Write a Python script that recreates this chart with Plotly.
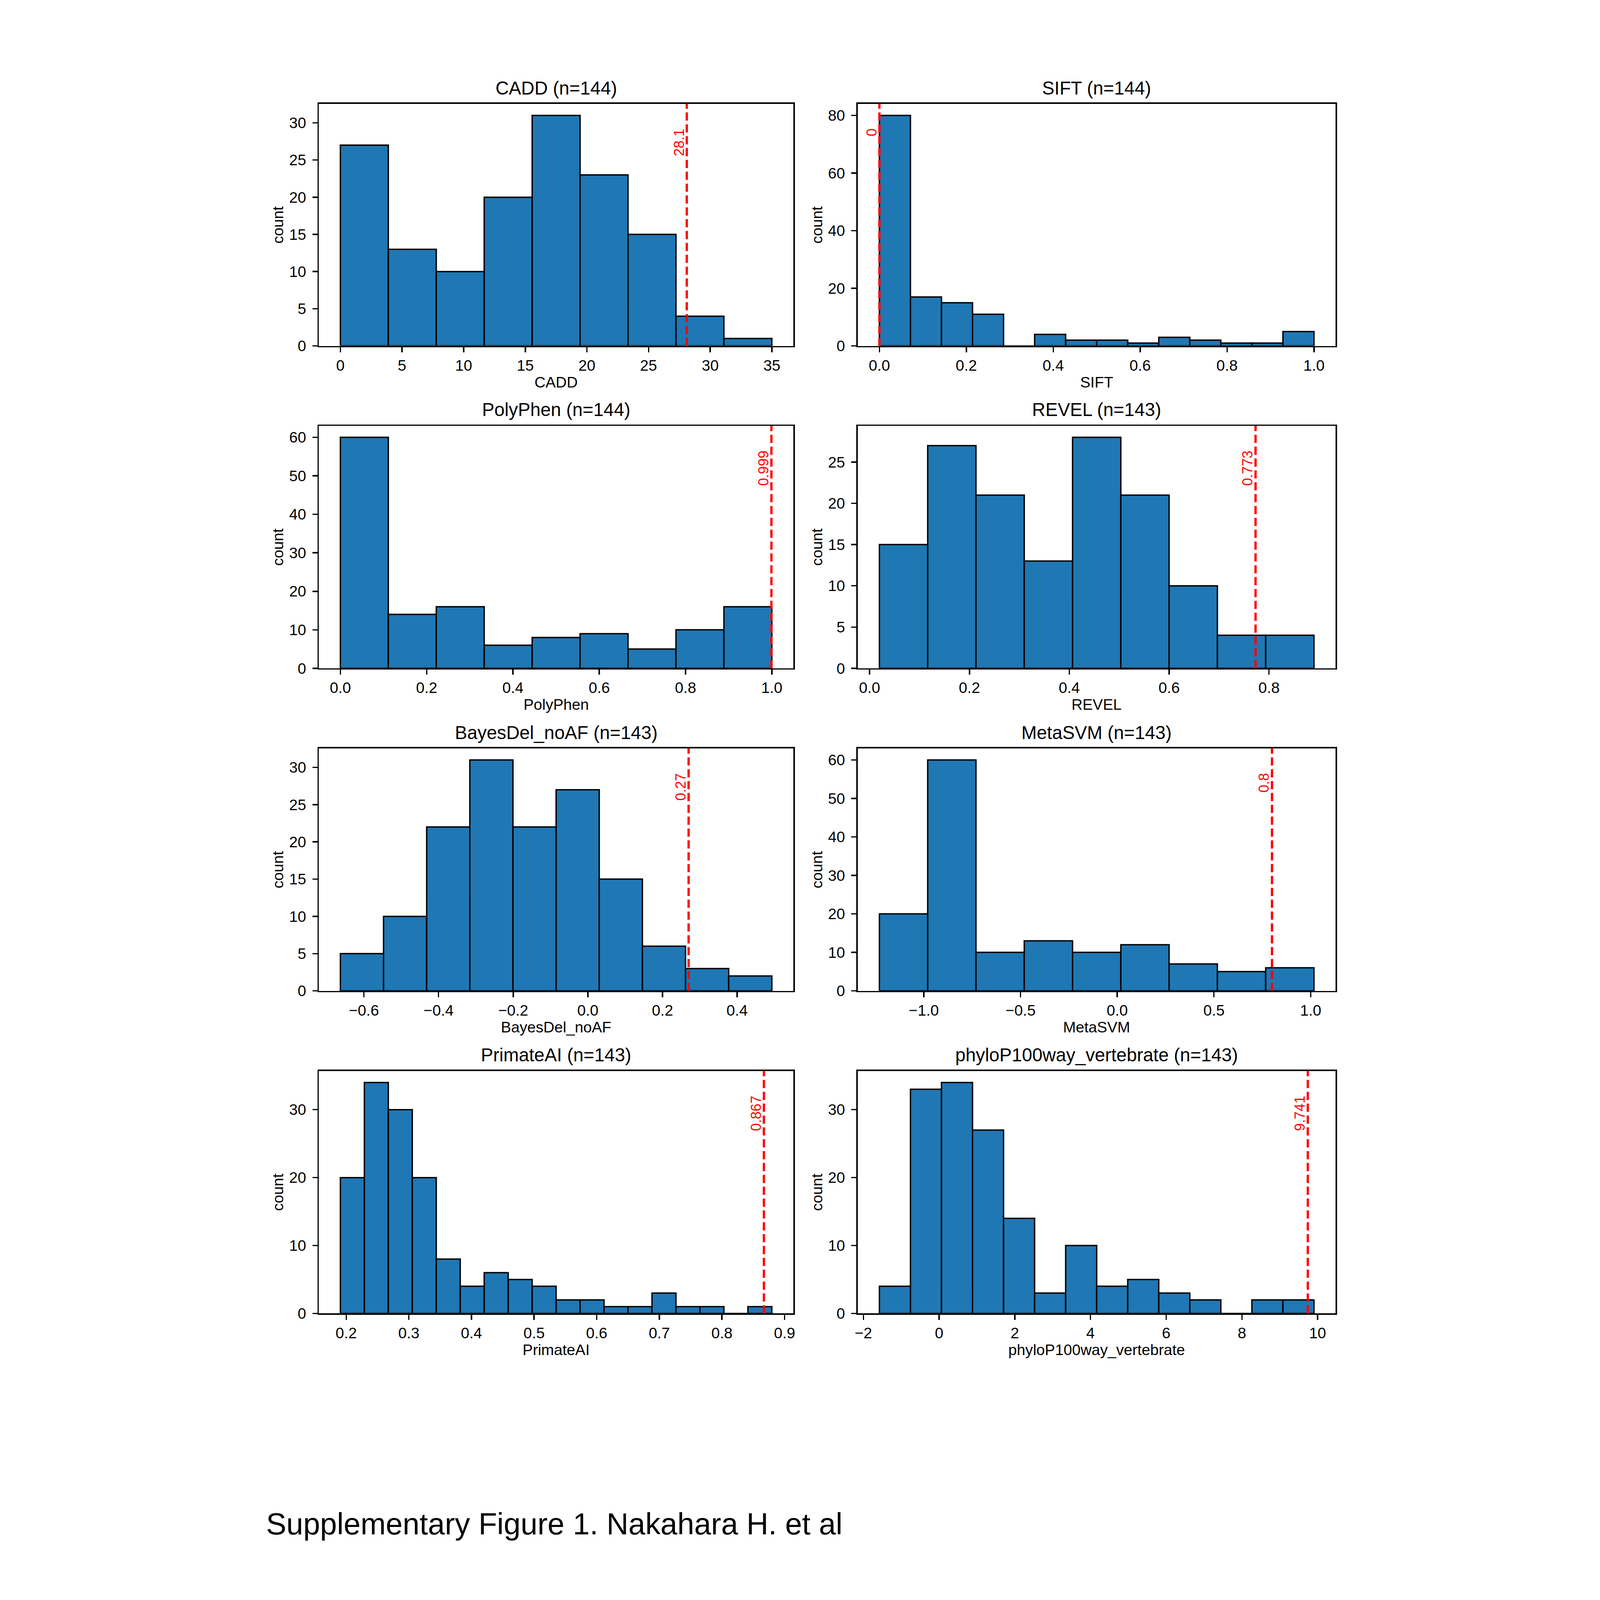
import numpy as np
import plotly.graph_objects as go

# ---------------- data ----------------
names = ["CADD", "SIFT", "PolyPhen", "REVEL", "BayesDel_noAF", "MetaSVM",
         "PrimateAI", "phyloP100way_vertebrate"]
n_values = [144, 144, 144, 143, 143, 143, 143, 143]

cadd_counts = [27, 13, 10, 20, 31, 23, 15, 4, 1]
cadd_range = [0.0, 35.0]
sift_counts = [80, 17, 15, 11, 0, 4, 2, 2, 1, 3, 2, 1, 1, 5]
sift_range = [0.0, 1.0]
polyphen_counts = [60, 14, 16, 6, 8, 9, 5, 10, 16]
polyphen_range = [0.0, 1.0]
revel_counts = [15, 27, 21, 13, 28, 21, 10, 4, 4]
revel_range = [0.0197, 0.890]
bayesdel_counts = [5, 10, 22, 31, 22, 27, 15, 6, 3, 2]
bayesdel_range = [-0.663, 0.493]
metasvm_counts = [20, 60, 10, 13, 10, 12, 7, 5, 6]
metasvm_range = [-1.2295, 1.017]
primateai_counts = [20, 34, 30, 20, 8, 4, 6, 5, 4, 2, 2, 1, 1, 3, 1, 1, 0, 1]
primateai_range = [0.1907, 0.8797]
phylop_counts = [4, 33, 34, 27, 14, 3, 10, 4, 5, 3, 2, 0, 2, 2]
phylop_range = [-1.577, 9.904]

all_counts = [cadd_counts, sift_counts, polyphen_counts, revel_counts,
              bayesdel_counts, metasvm_counts, primateai_counts, phylop_counts]
all_ranges = [cadd_range, sift_range, polyphen_range, revel_range,
              bayesdel_range, metasvm_range, primateai_range, phylop_range]

thresholds = [28.1, 0.0, 0.999, 0.773, 0.27, 0.8, 0.867, 9.741]
threshold_labels = ["28.1", "0", "0.999", "0.773", "0.27", "0.8", "0.867", "9.741"]

x_dticks = [5, 0.2, 0.2, 0.2, 0.2, 0.5, 0.1, 2]
x_formats = ["d", ".1f", ".1f", ".1f", ".1f", ".1f", ".1f", "d"]
y_dticks = [5, 20, 10, 5, 5, 10, 10, 10]

footer = "Supplementary Figure 1. Nakahara H. et al"

# ---------------- layout geometry (pixels of the 4961x7016 page) ----------------
W, H = 4961, 7016
col_px = [(359, 2449), (2732, 4837)]
row_px = [(458, 1525), (1877, 2946), (3299, 4368), (4721, 5790)]

FONT = "Liberation Sans, Arial, Helvetica, sans-serif"
BAR_COLOR = "#1f77b4"

fig = go.Figure()
layout = dict(
    width=W, height=H,
    margin=dict(l=0, r=0, t=0, b=0),
    paper_bgcolor="white", plot_bgcolor="white",
    showlegend=False,
    font=dict(family=FONT, size=67, color="black"),
)
annotations = []
shapes = []

for i, (name, counts, rng) in enumerate(zip(names, all_counts, all_ranges)):
    r, c = divmod(i, 2)
    idx = "" if i == 0 else str(i + 1)
    xa, ya = "x" + idx, "y" + idx
    nb = len(counts)
    edges = np.linspace(rng[0], rng[1], nb + 1)
    width = edges[1] - edges[0]
    fig.add_trace(go.Bar(
        x=edges[:-1], y=counts, width=[width] * nb, offset=0,
        marker=dict(color=BAR_COLOR, line=dict(color="black", width=6)),
        xaxis=xa, yaxis=ya, hoverinfo="skip",
    ))
    span = rng[1] - rng[0]
    xr = [min(rng[0], thresholds[i]) - 0.05 * span, max(rng[1], thresholds[i]) + 0.05 * span]
    yr = [0, max(counts) * 1.05]
    x0p, x1p = col_px[c]
    y0p, y1p = row_px[r]
    axis_common = dict(
        showline=True, linecolor="black", linewidth=6, mirror=True,
        ticks="outside", ticklen=22, tickwidth=6, tickcolor="black",
        showgrid=False, zeroline=False, tick0=0,
        tickfont=dict(family=FONT, size=67, color="black"),
        fixedrange=True,
    )
    layout["xaxis" + idx] = dict(
        axis_common, domain=[x0p / W, x1p / W], anchor=ya, range=xr,
        dtick=x_dticks[i], tickformat=x_formats[i], ticklabelstandoff=0,
    )
    layout["yaxis" + idx] = dict(
        axis_common, domain=[1 - y1p / H, 1 - y0p / H], anchor=xa, range=yr,
        dtick=y_dticks[i], tickformat="d", ticklabelstandoff=14,
    )
    xc = (x0p + x1p) / 2 / W
    annotations.append(dict(
        text=f"{name} (n={n_values[i]})", x=xc, y=1 - (y0p - 70) / H,
        xref="paper", yref="paper", xanchor="center", yanchor="middle",
        showarrow=False, font=dict(family=FONT, size=81, color="black")))
    annotations.append(dict(
        text=name, x=xc, y=1 - (y1p + 160) / H,
        xref="paper", yref="paper", xanchor="center", yanchor="middle",
        showarrow=False, font=dict(family=FONT, size=67, color="black")))
    annotations.append(dict(
        text="count", x=(x0p - 180) / W, y=1 - (y0p + y1p) / 2 / H,
        xref="paper", yref="paper", xanchor="center", yanchor="middle",
        textangle=-90, showarrow=False,
        font=dict(family=FONT, size=67, color="black")))
    shapes.append(dict(
        type="line", xref=xa, yref=ya + " domain", x0=thresholds[i], x1=thresholds[i],
        y0=0, y1=1, line=dict(color="red", width=10, dash="36px,16px"), layer="above"))
    annotations.append(dict(
        text=threshold_labels[i], x=thresholds[i], y=0.9,
        xref=xa, yref=ya + " domain", xanchor="right", yanchor="top",
        textangle=-90, showarrow=False, xshift=2,
        font=dict(family=FONT, size=62, color="red")))

annotations.append(dict(
    text=footer, x=125 / W, y=1 - 6717 / H, xref="paper", yref="paper",
    xanchor="left", yanchor="middle", showarrow=False,
    font=dict(family=FONT, size=133, color="black")))

layout["annotations"] = annotations
layout["shapes"] = shapes
fig.update_layout(**layout)

# Fit the full page into whatever viewport the browser really has (uniform scale).
fit_js = """
(function(){
  var gd = document.getElementById('{plot_id}');
  document.documentElement.style.overflow = 'hidden';
  document.body.style.margin = '0';
  document.body.style.overflow = 'hidden';
  var W = %d, H = %d;
  var iw = window.innerWidth, ih = window.innerHeight;
  var s = Math.min(iw / W, ih / H, 1);
  var ox = Math.max((iw - W * s) / 2, 0);
  gd.style.transformOrigin = '0 0';
  gd.style.transform = 'translate(' + ox + 'px,0px) scale(' + s + ')';
})();
""" % (W, H)
fig.write_html("out.html", post_script=fit_js)
